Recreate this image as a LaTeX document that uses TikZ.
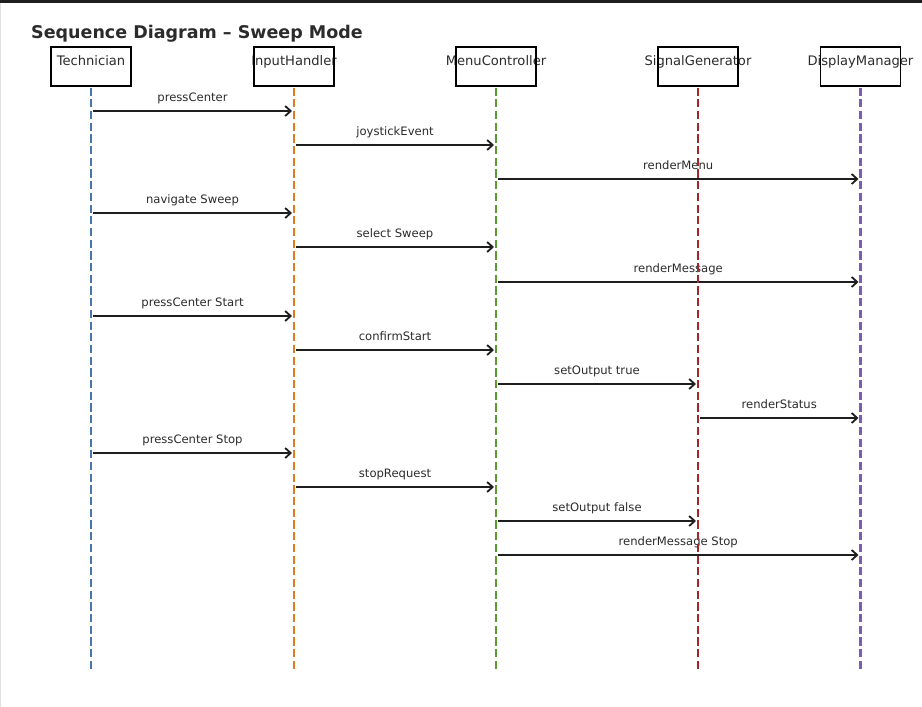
\documentclass[tikz,border=0pt]{standalone}
\usepackage{fontspec}
\setmainfont{DejaVu Sans}
\usetikzlibrary{arrows.meta}
\definecolor{cTech}{HTML}{4A76AE}
\definecolor{cInp}{HTML}{E07B22}
\definecolor{cMenu}{HTML}{5A9A2E}
\definecolor{cSig}{HTML}{A8262A}
\definecolor{cDisp}{HTML}{7E5CB4}
\definecolor{ink}{HTML}{1E1E1E}
\definecolor{txt}{HTML}{2B2B2B}
\tikzset{
  titletext/.style={anchor=base west, inner sep=0pt, font=\fontsize{17.5}{20}\selectfont\bfseries, text=txt},
  hdrtext/.style={anchor=base, inner sep=0pt, font=\fontsize{13.1}{16}\selectfont, text=txt},
  hdrbox/.style={draw=black, line width=1.5pt, minimum width=80pt, minimum height=39pt, inner sep=0pt},
  lifeline/.style={line width=2.2pt, dash pattern=on 8.2pt off 3.5pt},
  msg/.style={draw=ink, line width=1.8pt, -{Straight Barb[length=5.5pt,width=10pt,line width=1.8pt]}, shorten <=2pt, shorten >=2pt},
  msglabel/.style={anchor=base, inner sep=0pt, font=\fontsize{11.6}{14}\selectfont, text=txt, yshift=10pt},
}
\begin{document}
\begin{tikzpicture}[x=1pt,y=-1pt]
\useasboundingbox (0,0) rectangle (922,707);
\fill[white] (0,0) rectangle (922,707);
\fill[ink] (0,0) rectangle (922,3);
\draw[black!12, line width=1pt] (0.5,3) -- (0.5,707);
\node[titletext] (title) at (31,38.3) {Sequence Diagram – Sweep Mode};
\foreach \n/\x/\lab in {tech/91/Technician, inp/294/InputHandler, menu/496/MenuController, sig/698/SignalGenerator, disp/860.5/DisplayManager}{
  \node[hdrtext] (\n-t) at (\x,65) {\lab};
  \node[hdrbox] (\n) at (\x,66.5) {};
  \coordinate (\n-end) at (\x,671);
}
\foreach \a/\b/\y/\l in {
  tech/inp/111/pressCenter,
  inp/menu/145/joystickEvent,
  menu/disp/179/renderMenu,
  tech/inp/213/navigate Sweep,
  inp/menu/247/select Sweep,
  menu/disp/282/renderMessage,
  tech/inp/316/pressCenter Start,
  inp/menu/350/confirmStart,
  menu/sig/384/setOutput true,
  sig/disp/418/renderStatus,
  tech/inp/453/pressCenter Stop,
  inp/menu/487/stopRequest,
  menu/sig/521/setOutput false,
  menu/disp/555/renderMessage Stop}{
  \draw[msg] (\a.south |- 0,\y) -- node[msglabel] {\l} (\b.south |- 0,\y);
}
\foreach \n/\col in {tech/cTech, inp/cInp, menu/cMenu, sig/cSig, disp/cDisp}{
  \draw[lifeline,\col] ([yshift=-0.75pt]\n.south) -- (\n-end);
}
\end{tikzpicture}
\end{document}
